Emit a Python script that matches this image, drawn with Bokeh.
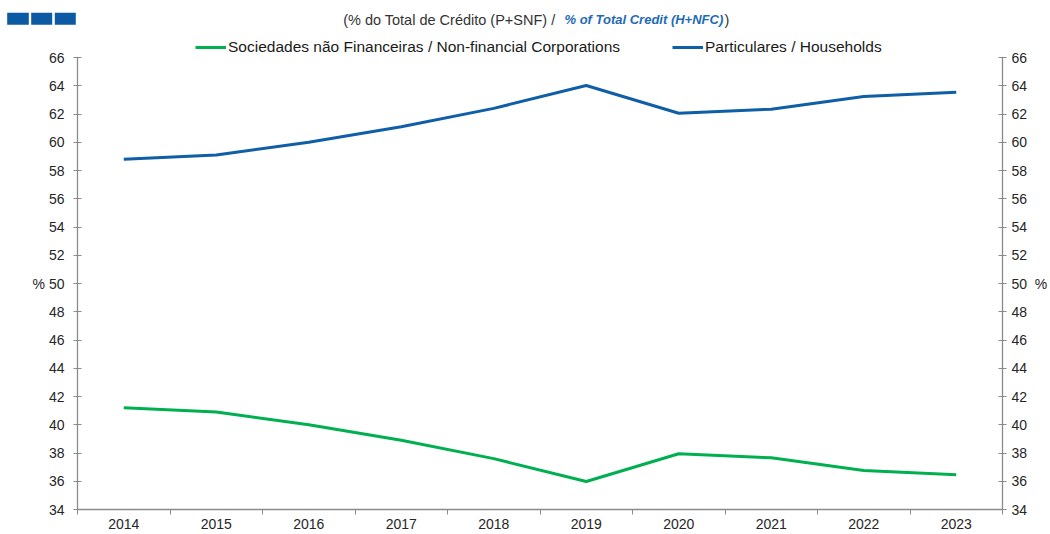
from bokeh.plotting import figure
from bokeh.layouts import column
from bokeh.models import Range1d, LinearAxis, FixedTicker, Legend, LegendItem, Label
from bokeh.embed import file_html
from bokeh.resources import INLINE

# ---- data ----
years = ["2014", "2015", "2016", "2017", "2018", "2019", "2020", "2021", "2022", "2023"]
nfc = [41.20, 40.90, 40.00, 38.90, 37.60, 35.98, 37.95, 37.66, 36.76, 36.46]
households = [58.80, 59.10, 60.00, 61.10, 62.40, 64.02, 62.05, 62.34, 63.24, 63.54]
y_min, y_max, y_step = 34, 66, 2
y_ticks = list(range(y_min, y_max + 1, y_step))
unit_tick = 50
nfc_label = "Sociedades não Financeiras / Non-financial Corporations"
hh_label = "Particulares / Households"
title_pt = "(% do Total  de Crédito (P+SNF) /"
title_en = "% of Total Credit (H+NFC)"
title_end = ")"
unit = "%"

# ---- layout constants (pixels) ----
W = 1050
HEAD_H = 30
MAIN_H = 534 - HEAD_H
BL, BR, BB = 77, 48, 25
FRAME_H = MAIN_H - BB
PX_TOP_GAP = 57 - HEAD_H
ppu = (FRAME_H - PX_TOP_GAP) / (y_max - y_min)
y_top = y_max + PX_TOP_GAP / ppu

FONT = "Liberation Sans"
GREEN = "#00B050"
BLUE = "#0F5EA8"
AXIS = "#8a8a8a"
TXT = "#262626"

# ---- header: brand squares + title ----
head = figure(width=W, height=HEAD_H, output_backend="svg", toolbar_location=None,
              x_range=Range1d(0, W), y_range=Range1d(HEAD_H, 0),
              x_axis_type=None, y_axis_type=None,
              min_border_left=0, min_border_right=0, min_border_top=0, min_border_bottom=0)
try:
    head.frame_align = False
except Exception:
    pass
head.outline_line_color = None
head.xgrid.visible = False
head.ygrid.visible = False
head.quad(left=[6.7, 30.7, 54.3], right=[28.3, 51.7, 75.3],
          top=[12.3] * 3, bottom=[24.3] * 3, fill_color="#0B5AA3", line_color=None)
head.add_layout(Label(x=559, y=19, text=title_pt, text_font=FONT, text_font_size="14.5px",
                      text_color="#333333", text_baseline="middle", text_align="right"))
head.add_layout(Label(x=564, y=19, text=title_en, text_font=FONT, text_font_size="13px",
                      text_color="#1F6BB6", text_font_style="bold italic",
                      text_baseline="middle", text_align="left"))
head.add_layout(Label(x=724, y=19, text=title_end, text_font=FONT, text_font_size="14.5px",
                      text_color="#333333", text_baseline="middle", text_align="left"))

# ---- main chart ----
n = len(years)
centers = [i + 0.5 for i in range(n)]
bounds = [i for i in range(n + 1)]

p = figure(width=W, height=MAIN_H, output_backend="svg", toolbar_location=None,
           x_range=Range1d(0, n), y_range=Range1d(y_min, y_top),
           x_axis_type=None, y_axis_type=None,
           min_border_left=BL, min_border_right=BR, min_border_top=0, min_border_bottom=BB)
try:
    p.frame_align = False
except Exception:
    pass
p.outline_line_color = None
p.xgrid.visible = False
p.ygrid.visible = False

r_nfc = p.line(centers, nfc, line_color=GREEN, line_width=3, line_join="round")
r_hh = p.line(centers, households, line_color=BLUE, line_width=3, line_join="round")

xa = LinearAxis(ticker=FixedTicker(ticks=centers, minor_ticks=bounds),
                major_label_overrides={c: y for c, y in zip(centers, years)})
xa.major_tick_line_color = None
xa.major_tick_out = 4
xa.major_tick_in = 0
xa.minor_tick_line_color = AXIS
xa.minor_tick_out = 5
xa.minor_tick_in = 0
xa.axis_line_color = AXIS
xa.axis_line_width = 1.3
xa.major_label_standoff = 4
xa.major_label_text_font = FONT
xa.major_label_text_font_size = "14px"
xa.major_label_text_color = TXT
p.add_layout(xa, "below")

for side in ("left", "right"):
    if side == "left":
        overrides = {unit_tick: f"{unit} {unit_tick}"}
    else:
        overrides = {unit_tick: f"{unit_tick}\u00a0\u00a0{unit}"}
    ya = LinearAxis(ticker=FixedTicker(ticks=y_ticks, minor_ticks=[]), bounds=(y_min, y_max),
                    major_label_overrides=overrides)
    ya.axis_line_color = AXIS
    ya.axis_line_width = 1.3
    ya.major_tick_line_color = AXIS
    ya.major_tick_in = 4
    ya.major_tick_out = 4
    ya.minor_tick_line_color = None
    ya.major_label_standoff = 9 if side == "left" else 5
    ya.major_label_text_font = FONT
    ya.major_label_text_font_size = "14px"
    ya.major_label_text_color = TXT
    p.add_layout(ya, side)

leg = Legend(items=[LegendItem(label=nfc_label, renderers=[r_nfc]),
                    LegendItem(label=hh_label, renderers=[r_hh])],
             orientation="horizontal", location=(195 - BL, FRAME_H - (47 - HEAD_H) - 9))
leg.glyph_width = 31
leg.glyph_height = 18
leg.label_height = 18
leg.label_standoff = 2
leg.spacing = 52
leg.padding = 0
leg.margin = 0
leg.border_line_color = None
leg.background_fill_alpha = 0
leg.label_text_font = FONT
leg.label_text_font_size = "15.5px"
leg.label_text_color = "#1a1a1a"
p.add_layout(leg, "center")

layout = column(head, p, spacing=0)
open("out.html", "w").write(file_html(layout, INLINE))
